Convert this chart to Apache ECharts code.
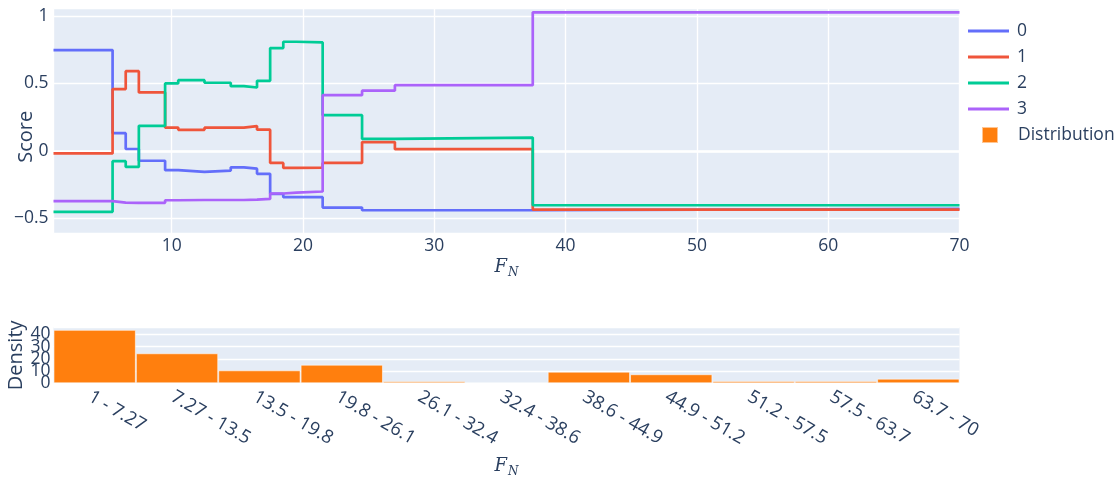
<!DOCTYPE html>
<html>
<head>
<meta charset="utf-8">
<script src="https://cdn.jsdelivr.net/npm/echarts@6/dist/echarts.min.js"></script>
<style>
html,body{margin:0;padding:0;background:#fff;}
#chart{width:1118px;height:479px;}
</style>
</head>
<body>
<div id="chart"></div>
<script>
// Step breakpoints on F_N (shared by all score series)
const breaks = [1, 5.5, 6.5, 7.5, 9.5, 10.5, 12.5, 14.5, 15.5, 16.5, 17.5, 18.5, 19.5, 21.5, 24.5, 27, 37.5, 70];
// Score of each segment, for each class
const score0 = [0.747, 0.131, 0.014, -0.073, -0.143, -0.156, -0.146, -0.122, -0.132, -0.170, -0.318, -0.343, -0.343, -0.420, -0.440, -0.440, -0.430];
const score1 = [-0.019, 0.458, 0.591, 0.433, 0.173, 0.156, 0.172, 0.172, 0.184, 0.157, -0.089, -0.126, -0.124, -0.089, 0.065, 0.013, -0.435];
const score2 = [-0.452, -0.076, -0.119, 0.186, 0.500, 0.524, 0.505, 0.480, 0.470, 0.519, 0.762, 0.809, 0.804, 0.265, 0.089, 0.099, -0.403];
const score3 = [-0.373, -0.383, -0.385, -0.385, -0.366, -0.364, -0.364, -0.364, -0.362, -0.356, -0.316, -0.310, -0.301, 0.413, 0.446, 0.487, 1.027];
const seriesNames = ['0', '1', '2', '3'];

// Distribution histogram
const binLabels = ['1 - 7.27', '7.27 - 13.5', '13.5 - 19.8', '19.8 - 26.1', '26.1 - 32.4', '32.4 - 38.6', '38.6 - 44.9', '44.9 - 51.2', '51.2 - 57.5', '57.5 - 63.7', '63.7 - 70'];
const density = [43.6, 24.5, 10.6, 15.2, 1.6, 0.3, 9.5, 7.4, 1.9, 1.9, 3.8];
const densityTicks = [0, 10, 20, 30, 40];

const colors = ['#636efa', '#EF553B', '#00cc96', '#ab63fa'];
const FONT = '"Open Sans", "Liberation Sans", Arial, sans-serif';
const TXT = '#2a3f5f';

function stepData(vals) {
  return breaks.map((x, i) => [x, vals[Math.min(i, vals.length - 1)]]);
}
const allScores = [score0, score1, score2, score3];
// The density tick labels overlap each other (as in the original); split them
// over two coincident axes so that the library does not drop any of them.
const densityTicksA = densityTicks.filter((v, i) => i % 2 === 0);
const densityTicksB = densityTicks.filter((v, i) => i % 2 === 1);

const fnName = '{f|F}{n|N}';
const fnRich = {
  f: {fontFamily: '"DejaVu Serif", "Liberation Serif", serif', fontStyle: 'italic', fontSize: 18, color: TXT},
  n: {fontFamily: '"DejaVu Serif", "Liberation Serif", serif', fontStyle: 'italic', fontSize: 12, color: TXT, padding: [12, 0, 0, 1]}
};

const chart = echarts.init(document.getElementById('chart'), null, {renderer: 'canvas'});
const lineSeries = allScores.map((vals, k) => ({
  name: seriesNames[k],
  type: 'line',
  step: 'end',
  xAxisIndex: 0,
  yAxisIndex: 0,
  showSymbol: false,
  symbol: 'none',
  data: stepData(vals),
  lineStyle: {color: colors[k], width: 2.7},
  itemStyle: {color: colors[k]},
  emphasis: {disabled: true},
  markLine: k === 0 ? {
    silent: true, symbol: 'none', z: 1,
    label: {show: false},
    lineStyle: {color: '#ffffff', width: 2.7, type: 'solid'},
    data: [{yAxis: 0}]
  } : undefined
}));

const densityLabel = {color: TXT, fontSize: 17.5, fontFamily: FONT, margin: 3, hideOverlap: false,
  showMinLabel: true, showMaxLabel: true};

const option = {
  animation: false,
  backgroundColor: '#ffffff',
  textStyle: {fontFamily: FONT},
  grid: [
    {left: 53.5, top: 8.3, width: 906, height: 225, backgroundColor: '#E5ECF6', show: true, borderWidth: 0, containLabel: false, outerBoundsMode: 'none'},
    {left: 53.5, top: 327.3, width: 906, height: 56, backgroundColor: '#E5ECF6', show: true, borderWidth: 0, containLabel: false, outerBoundsMode: 'none'}
  ],
  legend: [
    {
      data: seriesNames, orient: 'vertical', left: 968, top: 22, padding: 0,
      icon: 'rect', itemWidth: 41, itemHeight: 3, itemGap: 8,
      textStyle: {color: TXT, fontSize: 17.5, fontFamily: FONT, lineHeight: 16, padding: [0, 0, 0, 3]},
      selectedMode: false
    },
    {
      data: ['Distribution'], orient: 'vertical', left: 981, top: 126, padding: 0,
      icon: 'rect', itemWidth: 16, itemHeight: 16,
      textStyle: {color: TXT, fontSize: 17.5, fontFamily: FONT, lineHeight: 16, padding: [0, 0, 0, 15]},
      selectedMode: false
    }
  ],
  xAxis: [
    {
      type: 'value', gridIndex: 0, min: 1, max: 70, splitNumber: 7,
      axisLine: {show: false}, axisTick: {show: false},
      axisLabel: {color: TXT, fontSize: 17.5, fontFamily: FONT, margin: 4, showMinLabel: false, hideOverlap: false},
      splitLine: {show: true, lineStyle: {color: '#ffffff', width: 1.4}},
      name: fnName, nameLocation: 'middle', nameGap: 22, nameMoveOverlap: false,
      nameTextStyle: {rich: fnRich}
    },
    {
      type: 'category', gridIndex: 1, data: binLabels,
      axisLine: {show: false}, axisTick: {show: false},
      axisLabel: {color: TXT, fontSize: 18.5, fontFamily: FONT, rotate: -30, margin: 4, interval: 0, hideOverlap: false, verticalAlign: 'top'},
      splitLine: {show: false},
      name: fnName, nameLocation: 'middle', nameGap: 71, nameMoveOverlap: false,
      nameTextStyle: {rich: fnRich}
    }
  ],
  yAxis: [
    {
      type: 'value', gridIndex: 0, min: -0.611, max: 1.057, splitNumber: 4,
      axisLine: {show: false}, axisTick: {show: false},
      axisLabel: {color: TXT, fontSize: 17.5, fontFamily: FONT, margin: 5, showMinLabel: false, showMaxLabel: false, hideOverlap: false,
        formatter: v => (v < 0 ? '\u2212' : '') + String(Math.abs(Math.round(v * 100) / 100))},
      splitLine: {show: true, lineStyle: {color: '#ffffff', width: 1.4}},
      name: 'Score', nameLocation: 'middle', nameGap: 17, nameMoveOverlap: false,
      nameTextStyle: {color: TXT, fontSize: 20, fontFamily: FONT, padding: [0, 32, 0, 0]}
    },
    {
      type: 'value', gridIndex: 1, min: 0, max: 45.7, splitNumber: 4, position: 'left',
      axisLine: {show: false}, axisTick: {show: false},
      axisLabel: Object.assign({customValues: densityTicksA}, densityLabel),
      splitLine: {show: true, lineStyle: {color: '#ffffff', width: 1.4}},
      name: 'Density', nameLocation: 'middle', nameGap: 27, nameMoveOverlap: false,
      nameTextStyle: {color: TXT, fontSize: 20, fontFamily: FONT}
    },
    {
      type: 'value', gridIndex: 1, min: 0, max: 45.7, splitNumber: 4, position: 'left', offset: 0,
      axisLine: {show: false}, axisTick: {show: false},
      axisLabel: Object.assign({customValues: densityTicksB}, densityLabel),
      splitLine: {show: false}
    }
  ],
  series: lineSeries.concat([{
    name: 'Distribution',
    type: 'bar',
    xAxisIndex: 1, yAxisIndex: 1,
    data: density,
    barCategoryGap: '0%',
    itemStyle: {color: '#ff7f0e', borderColor: 'rgba(255,255,255,0.55)', borderWidth: 1},
    emphasis: {disabled: true}
  }])
};
chart.setOption(option);
</script>
</body>
</html>
